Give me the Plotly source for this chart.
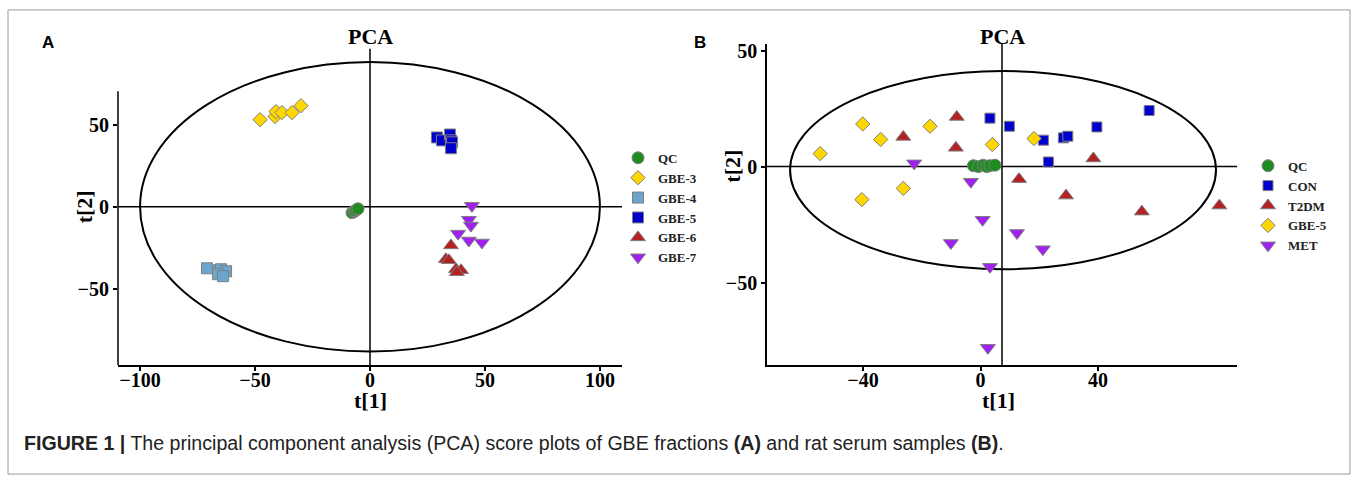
import plotly.graph_objects as go

W, H = 1357, 480

def fx(p):
    return p / W

def fy(p):
    return 1 - p / H

SERIF = "Liberation Serif"
SANS = "Liberation Sans"

# ---------------- Panel A data ----------------
a_qc_x = [-7.8, -6.9, -6.5, -5.8, -5.2]
a_qc_y = [-3.6, -3.0, -2.4, -1.8, -1.2]
a_g3_x = [-47.8, -41.3, -40.9, -38.3, -33.9, -30.0]
a_g3_y = [53.3, 55.2, 58.2, 57.6, 57.6, 61.8]
a_g4_x = [-70.9, -66.1, -64.8, -62.6, -66.1, -63.9]
a_g4_y = [-37.6, -38.8, -38.2, -39.4, -41.2, -42.4]
a_g5_x = [29.1, 31.3, 34.8, 35.2, 35.7, 35.2]
a_g5_y = [42.4, 40.6, 44.2, 40.6, 39.4, 35.8]
a_g6_x = [35.2, 33.0, 34.3, 37.4, 39.6, 37.8]
a_g6_y = [-23.6, -32.1, -32.7, -38.2, -38.8, -40.0]
a_g7_x = [44.3, 43.0, 43.9, 38.3, 43.0, 48.7]
a_g7_y = [0.6, -7.9, -11.5, -16.4, -20.6, -21.8]

a_xticks = [-100, -50, 0, 50, 100]
a_yticks = [-50, 0, 50]

# ---------------- Panel B data ----------------
b_qc_x = [-2.45, -0.75, 0.95, 2.1, 3.2, 4.9]
b_qc_y = [0.4, 0.0, 0.6, 0.0, 0.4, 0.6]
b_con_x = [3.2, 9.8, 21.4, 23.1, 28.2, 29.7, 39.6, 57.4]
b_con_y = [20.9, 17.4, 11.4, 2.0, 12.4, 13.1, 17.1, 24.2]
b_t2_x = [-8.1, -26.3, -8.4, 13.1, 38.4, 29.1, 54.9, 81.3]
b_t2_y = [21.4, 12.8, 8.1, -5.4, 3.5, -12.5, -19.4, -16.8]
b_g5_x = [-40.1, -54.6, -34.0, -17.2, 4.0, 18.2, -26.3, -40.4]
b_g5_y = [18.4, 5.6, 11.7, 17.4, 9.5, 12.1, -9.4, -14.2]
b_met_x = [-22.6, -3.3, 0.7, -10.1, 12.4, 21.2, 3.2, 2.5]
b_met_y = [1.4, -6.5, -22.9, -32.9, -28.6, -35.6, -43.2, -78.1]

b_xticks = [-40, 0, 40]
b_yticks = [-50, 0, 50]

GREEN = "#1E8C1E"
GOLD = "#FFD700"
LBLUE = "#6CA6CD"
BLUE = "#0000CD"
RED = "#B22222"
PURPLE = "#A020F0"
EDGE = dict(color="#7F7F7F", width=1)

fig = go.Figure()

def add(x, y, name, color, symbol, size, xa, ya, legend):
    fig.add_trace(go.Scatter(
        x=x, y=y, mode="markers", name=name,
        marker=dict(color=color, symbol=symbol, size=size, line=EDGE),
        xaxis=xa, yaxis=ya, legend=legend,
    ))

add(a_qc_x, a_qc_y, "QC", GREEN, "circle", 12, "x", "y", "legend")
add(a_g3_x, a_g3_y, "GBE-3", GOLD, "diamond", 11, "x", "y", "legend")
add(a_g4_x, a_g4_y, "GBE-4", LBLUE, "square", 11, "x", "y", "legend")
add(a_g5_x, a_g5_y, "GBE-5", BLUE, "square", 11, "x", "y", "legend")
add(a_g6_x, a_g6_y, "GBE-6", RED, "triangle-up", 13, "x", "y", "legend")
add(a_g7_x, a_g7_y, "GBE-7", PURPLE, "triangle-down", 13, "x", "y", "legend")

add(b_qc_x, b_qc_y, "QC", GREEN, "circle", 12, "x2", "y2", "legend2")
add(b_con_x, b_con_y, "CON", BLUE, "square", 10, "x2", "y2", "legend2")
add(b_t2_x, b_t2_y, "T2DM", RED, "triangle-up", 13, "x2", "y2", "legend2")
add(b_g5_x, b_g5_y, "GBE-5", GOLD, "diamond", 11, "x2", "y2", "legend2")
add(b_met_x, b_met_y, "MET", PURPLE, "triangle-down", 13, "x2", "y2", "legend2")

tickfont = dict(family=SERIF, size=20, color="black", weight="bold")
titlefont = dict(family=SERIF, size=22, color="black", weight="bold")

common = dict(showgrid=False, zeroline=False, ticks="outside", ticklen=4,
              tickwidth=1.5, tickcolor="black", tickfont=tickfont,
              linecolor="black", linewidth=1.5)

fig.update_layout(
    width=W, height=H,
    margin=dict(l=0, r=0, t=0, b=0),
    paper_bgcolor="white", plot_bgcolor="white",
    xaxis=dict(domain=[fx(118), fx(622)], range=[-109.6, 109.6],
               tickvals=a_xticks, showline=True, anchor="y",
               ticklabelstandoff=-8, **common),
    yaxis=dict(domain=[fy(364), fy(45)], range=[-96.7, 96.7],
               tickvals=a_yticks, showline=False, anchor="x", **common),
    xaxis2=dict(domain=[fx(767), fx(1237)], range=[-72.7, 87.3],
                tickvals=b_xticks, showline=True, anchor="y2",
                ticklabelstandoff=-8, **common),
    yaxis2=dict(domain=[fy(364), fy(40)], range=[-85.5, 53.0],
                tickvals=b_yticks, showline=True, anchor="x2", **common),
    legend=dict(x=fx(618), y=fy(140), xanchor="left", yanchor="top",
                font=dict(family=SERIF, size=13, color="#222", weight="bold"),
                bgcolor="rgba(0,0,0,0)", tracegroupgap=0, itemwidth=30),
    legend2=dict(x=fx(1248), y=fy(148), xanchor="left", yanchor="top",
                 font=dict(family=SERIF, size=13, color="#222", weight="bold"),
                 bgcolor="rgba(0,0,0,0)", tracegroupgap=0, itemwidth=30),
)

shapes = []
# Panel A ellipse and reference lines
shapes.append(dict(type="circle", xref="x", yref="y", x0=-100, x1=100, y0=-88.5, y1=88.5,
                   line=dict(color="black", width=2), layer="below"))
shapes.append(dict(type="line", xref="x", yref="y domain", x0=0, x1=0, y0=0, y1=1,
                   line=dict(color="black", width=1.5), layer="below"))
shapes.append(dict(type="line", xref="x domain", yref="y", x0=0, x1=1, y0=0, y1=0,
                   line=dict(color="black", width=1.5), layer="below"))
shapes.append(dict(type="line", xref="x domain", yref="y", x0=0, x1=0, y0=-96.7, y1=70.6,
                   line=dict(color="black", width=1.5)))
# Panel B ellipse and reference lines
shapes.append(dict(type="circle", xref="x2", yref="y2", x0=-64.85, x1=80.15, y0=-44.2, y1=41.2,
                   line=dict(color="black", width=2), layer="below"))
shapes.append(dict(type="line", xref="x2", yref="y2 domain", x0=7.3, x1=7.3, y0=0, y1=1,
                   line=dict(color="black", width=1.5), layer="below"))
shapes.append(dict(type="line", xref="x2 domain", yref="y2", x0=0, x1=1, y0=0, y1=0,
                   line=dict(color="black", width=1.5), layer="below"))
# Outer frame
shapes.append(dict(type="rect", xref="paper", yref="paper", x0=fx(8), x1=fx(1350),
                   y0=fy(474), y1=fy(6), line=dict(color="#9A9A9A", width=1)))
fig.update_layout(shapes=shapes)

def note(text, x, y, font, xanchor="center", angle=0):
    return dict(text=text, x=fx(x), y=fy(y), xref="paper", yref="paper",
                xanchor=xanchor, yanchor="middle", textangle=angle,
                showarrow=False, font=font)

pca_font = dict(family=SERIF, size=22, color="black", weight="bold")
lab_font = dict(family=SANS, size=17, color="black", weight="bold")

ann = [
    note("PCA", 370, 33, pca_font),
    note("PCA", 1002, 33, pca_font),
    note("A", 48, 39, lab_font),
    note("B", 700, 39, lab_font),
    note("t[1]", 370, 400, titlefont),
    note("t[1]", 998, 400, titlefont),
    note("t[2]", 84, 205, titlefont, angle=-90),
    note("t[2]", 733, 164, titlefont, angle=-90),
    note("<b>FIGURE 1 |</b> The principal component analysis (PCA) score plots of GBE fractions "
         "<b>(A)</b> and rat serum samples <b>(B)</b>.", 22, 443,
         dict(family=SANS, size=19.6, color="#222"), xanchor="left"),
]
fig.update_layout(annotations=ann)

fig.write_html("out.html")
